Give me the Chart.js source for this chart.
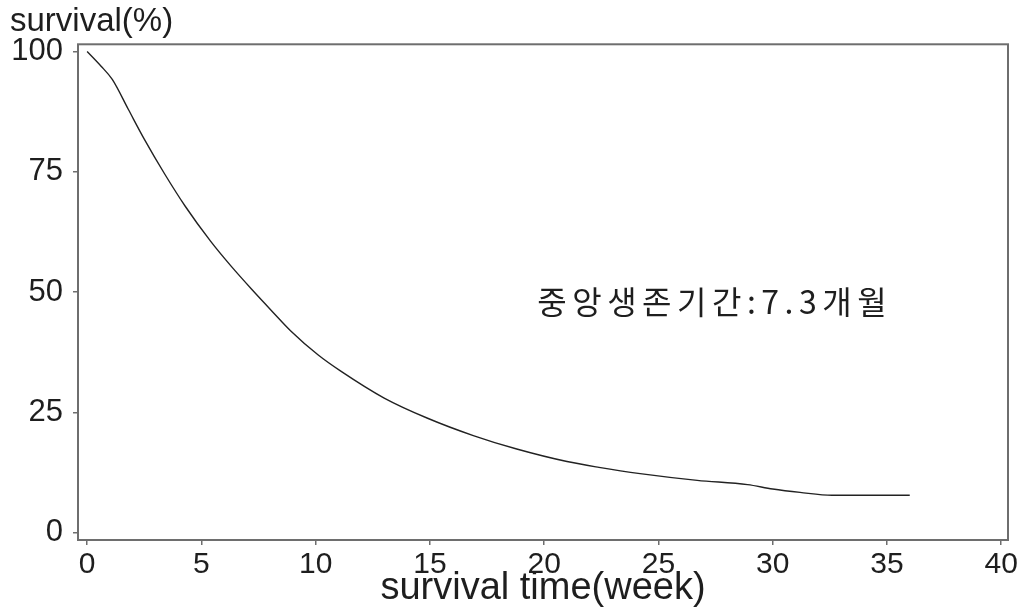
<!DOCTYPE html>
<html>
<head>
<meta charset="utf-8">
<script src="https://cdn.jsdelivr.net/npm/chart.js@4"></script>
<style>
  html, body { margin: 0; padding: 0; background: #fff; }
  #wrap { width: 1020px; height: 608px; }
</style>
</head>
<body>
<div id="wrap"><canvas id="survivalChart" width="1020" height="608"></canvas></div>
<script>
const weeks = [0, 0.6, 1.1, 1.8, 2.5, 3.4, 4.3, 5.4, 6.3, 7.2, 8.1, 8.9, 10.1, 11.1, 13.0, 14.9, 16.9, 18.8, 21.0, 22.4, 24.2, 26.7, 28.9, 30.0, 31.2, 32.6, 36.0];
const survival = [100, 97, 94.2, 88.0, 81.8, 74.5, 67.8, 60.6, 55.4, 50.6, 46.0, 42.0, 37.0, 33.6, 28.0, 23.8, 20.2, 17.4, 14.8, 13.6, 12.3, 10.9, 10.0, 9.1, 8.4, 7.8, 7.8];
const xTicks = [0, 5, 10, 15, 20, 25, 30, 35, 40];
const yTicks = [0, 25, 50, 75, 100];
const yTitle = "survival(%)";
const xTitle = "survival time(week)";
const note = "중앙생존기간:7.3개월";
const noteAt = { x: 19.7, y: 48 };

const axisGray = "#6e6e6e";
const textColor = "#1e1e1e";

// frame round the plot area + the median survival note
const framePlugin = {
  id: "frame",
  afterDraw(chart) {
    const { ctx, chartArea: a, scales } = chart;
    ctx.save();
    ctx.strokeStyle = axisGray;
    ctx.lineWidth = 2;
    ctx.strokeRect(a.left, a.top, a.right - a.left, a.bottom - a.top);
    ctx.fillStyle = textColor;
    ctx.font = '32px "Noto Sans CJK KR", sans-serif';
    ctx.letterSpacing = "5.5px";
    ctx.textBaseline = "middle";
    ctx.textAlign = "left";
    ctx.fillText(note, scales.x.getPixelForValue(noteAt.x), scales.y.getPixelForValue(noteAt.y));
    ctx.restore();
  },
};

new Chart(document.getElementById("survivalChart"), {
  type: "line",
  data: {
    datasets: [{
      data: weeks.map((w, i) => ({ x: w, y: survival[i] })),
      borderColor: "#222",
      borderWidth: 1.4,
      pointRadius: 0,
      cubicInterpolationMode: "monotone",
      fill: false,
    }],
  },
  options: {
    responsive: false,
    animation: false,
    layout: { padding: { left: 10, right: 12, top: 0, bottom: 0 } },
    plugins: {
      legend: { display: false },
      tooltip: { enabled: false },
      title: {
        display: true,
        text: yTitle,
        align: "start",
        color: textColor,
        font: { family: "'Liberation Sans', Arial, sans-serif", size: 33, weight: "normal", lineHeight: 1.1 },
        padding: { top: 4, bottom: 4 },
      },
    },
    scales: {
      x: {
        type: "linear",
        min: -0.4,
        max: 40.3,
        afterBuildTicks: (s) => { s.ticks = xTicks.map((v) => ({ value: v })); },
        afterFit: (s) => { s.height = 68; },
        border: { display: false },
        grid: { drawOnChartArea: false, drawTicks: true, tickLength: 5, color: axisGray, lineWidth: 1.5 },
        ticks: { color: textColor, padding: 2, maxRotation: 0, font: { family: "'Liberation Sans', Arial, sans-serif", size: 30 } },
        title: {
          display: true,
          text: xTitle,
          color: textColor,
          padding: 0,
          font: { family: "'Liberation Sans', Arial, sans-serif", size: 38, lineHeight: 1 },
        },
      },
      y: {
        type: "linear",
        min: -1.5,
        max: 101.5,
        afterBuildTicks: (s) => { s.ticks = yTicks.map((v) => ({ value: v })); },
        afterFit: (s) => { s.width = 68; },
        border: { display: false },
        grid: { drawOnChartArea: false, drawTicks: true, tickLength: 5, color: axisGray, lineWidth: 1.5 },
        ticks: { color: textColor, padding: 10, font: { family: "'Liberation Sans', Arial, sans-serif", size: 31 } },
      },
    },
  },
  plugins: [framePlugin],
});
</script>
</body>
</html>
